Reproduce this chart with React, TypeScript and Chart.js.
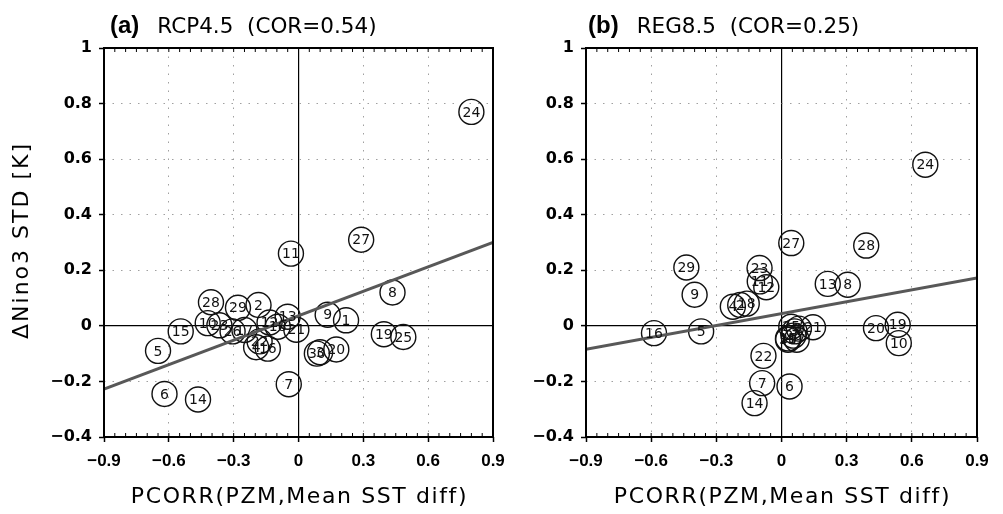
import React, { useEffect, useRef } from 'react';
import { Chart, registerables } from 'chart.js';

Chart.register(...registerables);

const xTicks = [-0.9, -0.6, -0.3, 0, 0.3, 0.6, 0.9];
const xTickLabels = ['−0.9', '−0.6', '−0.3', '0', '0.3', '0.6', '0.9'];
const yTicks = [-0.4, -0.2, 0, 0.2, 0.4, 0.6, 0.8, 1];
const yTickLabels = ['−0.4', '−0.2', '0', '0.2', '0.4', '0.6', '0.8', '1'];

const modelIds = [1, 2, 3, 4, 5, 6, 7, 8, 9, 10, 11, 12, 13, 14, 15, 16, 17, 18, 19, 20, 21, 22, 23, 24, 25, 26, 27, 28, 29, 30];

const rcp45X = [0.22, -0.185, 0.10, -0.196, -0.65, -0.62, -0.045, 0.435, 0.135, -0.42, -0.035, -0.134, -0.05, -0.465, -0.545, -0.142, -0.25, -0.096, 0.395, 0.175, -0.01, -0.18, -0.366, 0.80, 0.485, -0.305, 0.29, -0.405, -0.28, 0.085];
const rcp45Y = [0.02, 0.075, -0.095, -0.077, -0.09, -0.245, -0.21, 0.12, 0.04, 0.01, 0.26, 0.012, 0.033, -0.265, -0.02, -0.082, -0.015, -0.003, -0.03, -0.085, -0.014, -0.056, 0.002, 0.77, -0.04, -0.02, 0.31, 0.085, 0.065, -0.10];

const rcp85X = [0.08, -0.19, 0.06, -0.224, -0.37, 0.037, -0.089, 0.305, -0.40, 0.54, -0.10, -0.07, 0.213, -0.124, 0.03, -0.587, 0.07, -0.16, 0.535, 0.435, 0.145, -0.083, -0.101, 0.662, 0.045, 0.055, 0.045, 0.39, -0.438, 0.03];
const rcp85Y = [-0.01, 0.075, -0.02, 0.069, -0.02, -0.218, -0.206, 0.148, 0.112, -0.062, 0.16, 0.139, 0.151, -0.278, -0.045, -0.026, -0.05, 0.08, 0.004, -0.008, -0.005, -0.108, 0.208, 0.58, -0.003, -0.035, 0.298, 0.289, 0.21, -0.05];

const fitX = [-0.9, 0.9];
const rcp45Fit = [-0.228, 0.30];
const rcp85Fit = [-0.084, 0.172];

const xTitle = 'PCORR(PZM,Mean SST diff)';
const yTitle = 'ΔNino3 STD [K]';

const FONT = '"Liberation Sans", Arial, Helvetica, sans-serif';
const WIDE = '"DejaVu Sans", Verdana, sans-serif';

type PanelProps = {
  tag: string;
  heading: string;
  xs: number[];
  ys: number[];
  fit: number[];
  left: number;
  width: number;
  yWidth: number;
  padRight: number;
  tagOffset: number;
  showYTitle: boolean;
};

const isZero = (v: number | undefined) => v !== undefined && Math.abs(v) < 1e-9;
const isEdge = (v: number | undefined, lo: number, hi: number) =>
  v !== undefined && (Math.abs(v - lo) < 1e-9 || Math.abs(v - hi) < 1e-9);

function Panel(props: PanelProps) {
  const ref = useRef<HTMLCanvasElement | null>(null);

  useEffect(() => {
    if (!ref.current) return;
    const decor = {
      id: 'decor',
      afterDatasetsDraw(chart: any) {
        const ctx = chart.ctx;
        const meta = chart.getDatasetMeta(0);
        ctx.save();
        ctx.font = `14px ${WIDE}`;
        ctx.fillStyle = '#111';
        ctx.textAlign = 'center';
        ctx.textBaseline = 'middle';
        meta.data.forEach((el: any, i: number) => {
          ctx.fillText(String(modelIds[i]), el.x, el.y + 1);
        });
        ctx.restore();
      },
      afterDraw(chart: any) {
        const { ctx, chartArea } = chart;
        const { left, right, top, bottom } = chartArea;
        const xs = chart.scales.x;
        ctx.save();
        ctx.strokeStyle = '#000';
        ctx.lineWidth = 1;
        for (let k = -18; k <= 18; k++) {
          const px = xs.getPixelForValue(k * 0.05);
          ctx.beginPath();
          ctx.moveTo(px, top);
          ctx.lineTo(px, top + 4);
          ctx.moveTo(px, bottom);
          ctx.lineTo(px, bottom - 4);
          ctx.stroke();
        }
        ctx.lineWidth = 2;
        ctx.strokeRect(left, top, right - left, bottom - top);

        // heading
        ctx.fillStyle = '#000';
        ctx.textBaseline = 'alphabetic';
        ctx.textAlign = 'left';
        ctx.font = `bold 24px ${FONT}`;
        const hx = left + props.tagOffset;
        const hy = 33;
        ctx.fillText(props.tag, hx, hy);
        const w = ctx.measureText(props.tag).width;
        ctx.font = `21.5px ${WIDE}`;
        ctx.fillText(props.heading, hx + w + 18, hy);

        // x axis title
        (ctx as any).letterSpacing = '1.6px';
        ctx.font = `22px ${WIDE}`;
        ctx.textAlign = 'center';
        ctx.textBaseline = 'middle';
        ctx.fillText(xTitle, (left + right) / 2 + 1, 497);

        // y axis title
        if (props.showYTitle) {
          (ctx as any).letterSpacing = '2px';
          ctx.translate(22, (top + bottom) / 2 - 2);
          ctx.rotate(-Math.PI / 2);
          ctx.fillText(yTitle, 0, 0);
        }
        ctx.restore();
      },
    };

    const chart = new Chart(ref.current, {
      type: 'scatter',
      data: {
        datasets: [
          {
            type: 'scatter',
            data: props.xs.map((x, i) => ({ x, y: props.ys[i] })),
            pointStyle: 'circle',
            pointRadius: 12.5,
            pointBorderWidth: 1.4,
            pointBorderColor: '#111',
            pointBackgroundColor: 'rgba(255,255,255,0)',
            order: 1,
          } as any,
          {
            type: 'line',
            data: fitX.map((x, i) => ({ x, y: props.fit[i] })),
            borderColor: '#585858',
            borderWidth: 3,
            pointRadius: 0,
            showLine: true,
            fill: false,
            order: 0,
          } as any,
        ],
      },
      options: {
        animation: false,
        responsive: false,
        devicePixelRatio: 1,
        layout: { padding: { top: 48, right: props.padRight, left: 0, bottom: 0 } },
        plugins: { legend: { display: false }, tooltip: { enabled: false }, title: { display: false } },
        scales: {
          x: {
            type: 'linear',
            min: -0.9,
            max: 0.9,
            afterBuildTicks: (s: any) => {
              s.ticks = xTicks.map((v) => ({ value: v }));
            },
            afterFit: (s: any) => {
              s.height = 77;
            },
            ticks: {
              autoSkip: false,
              maxRotation: 0,
              padding: 9,
              color: '#000',
              font: { family: FONT, size: 17, weight: 'bold' },
              callback: (_v: any, i: number) => xTickLabels[i],
            },
            grid: {
              color: (c: any) =>
                isZero(c.tick?.value) ? '#000' : isEdge(c.tick?.value, -0.9, 0.9) ? 'rgba(0,0,0,0)' : '#a0a0a0',
              lineWidth: (c: any) => (isZero(c.tick?.value) ? 1.2 : 1),
              tickColor: '#000',
              tickLength: 5,
              tickWidth: 1.5,
            },
            border: {
              display: false,
              dash: (c: any) => (isZero(c.tick?.value) ? [] : [1.5, 7]),
            },
            title: { display: false },
          },
          y: {
            type: 'linear',
            min: -0.4,
            max: 1,
            afterBuildTicks: (s: any) => {
              s.ticks = yTicks.map((v) => ({ value: v }));
            },
            afterFit: (s: any) => {
              s.width = props.yWidth;
            },
            ticks: {
              autoSkip: false,
              padding: 7,
              color: '#000',
              font: { family: WIDE, size: 16, weight: 'bold' },
              callback: (_v: any, i: number) => yTickLabels[i],
            },
            grid: {
              color: (c: any) =>
                isZero(c.tick?.value) ? '#000' : isEdge(c.tick?.value, -0.4, 1) ? 'rgba(0,0,0,0)' : '#a0a0a0',
              lineWidth: (c: any) => (isZero(c.tick?.value) ? 1.2 : 1),
              tickColor: '#000',
              tickLength: 5,
              tickWidth: 1.5,
            },
            border: {
              display: false,
              dash: (c: any) => (isZero(c.tick?.value) ? [] : [1.5, 7]),
            },
            title: { display: false },
          },
        },
      } as any,
      plugins: [decor as any],
    });
    return () => chart.destroy();
  }, []);

  return (
    <canvas
      ref={ref}
      width={props.width}
      height={514}
      style={{ position: 'absolute', left: props.left, top: 0, width: props.width, height: 514 }}
    />
  );
}

export default function App() {
  return (
    <div style={{ position: 'absolute', left: 0, top: 0, width: 1003, height: 514, background: '#fff' }}>
      <Panel
        tag="(a)"
        heading="RCP4.5  (COR=0.54)"
        xs={rcp45X}
        ys={rcp45Y}
        fit={rcp45Fit}
        left={0}
        width={514}
        yWidth={104}
        padRight={21}
        tagOffset={6}
        showYTitle={true}
      />
      <Panel
        tag="(b)"
        heading="REG8.5  (COR=0.25)"
        xs={rcp85X}
        ys={rcp85Y}
        fit={rcp85Fit}
        left={500}
        width={503}
        yWidth={86}
        padRight={26}
        tagOffset={2}
        showYTitle={false}
      />
    </div>
  );
}
